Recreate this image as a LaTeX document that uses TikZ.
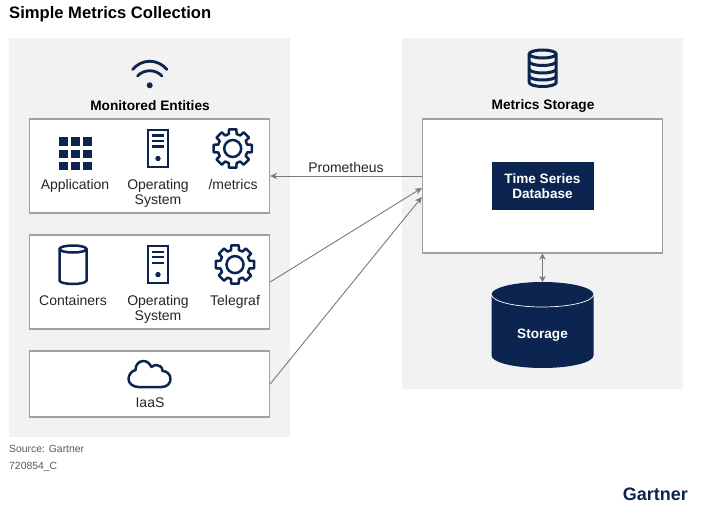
\documentclass[tikz,border=0pt]{standalone}
\usepackage{fontspec}
\setmainfont{Liberation Sans}
\usetikzlibrary{arrows.meta}
\definecolor{navy}{HTML}{0B2550}
\definecolor{panelgray}{HTML}{F2F2F2}
\definecolor{edgegray}{HTML}{9CA1A1}
\definecolor{arrowgray}{HTML}{757A7A}
\newcommand{\sz}[1]{\fontsize{#1}{#1}\selectfont}

\tikzset{
    panel/.style={fill=panelgray,draw=none,minimum width=281pt,inner sep=0pt},
    whitebox/.style={fill=white,draw=edgegray,line width=1.3pt,minimum width=240pt,inner sep=0pt},
    lbl/.style={anchor=north,align=center,text=black!85,font=\sz{14},inner sep=0pt},
    head/.style={text=black,font=\bfseries\sz{13.7},inner sep=0pt},
    navytext/.style={text=white,font=\bfseries\sz{13.6},align=center,inner sep=0pt},
    flow/.style={-{Stealth[length=7pt,width=6.5pt]},draw=arrowgray,line width=.9pt},
    iconline/.style={draw=navy,line width=2.5pt,fill=none},
    gearicon/.pic={
        \draw[iconline,line join=round] (-11:19.5)
            \foreach \a in {0,45,...,315} { -- (\a-11:19.5) -- (\a+11:19.5) -- (\a+15:15) -- (\a+30:15) }
            -- cycle;
        \draw[iconline] (0,0) circle (8.5);
    },
    servericon/.pic={
        \draw[iconline] (-10,-18.5) rectangle (10,18.5);
        \foreach \y in {-13,-7.5,-2}
            \draw[navy,line width=2.2pt] (-6,\y) -- (6,\y);
        \fill[navy] (0,10) circle (2.7);
    },
}

\begin{document}
\begin{tikzpicture}[x=1pt,y=-1pt]

    \useasboundingbox (0,0) rectangle (702,511);

    \node[anchor=west,text=black,font=\bfseries\sz{16.6},inner sep=0pt] (title) at (9,14) {Simple Metrics Collection};

    % the two panels
    \node[panel,minimum height=399pt] (leftpanel) at (149.5,237.5) {};
    \node[panel,minimum height=351pt] (rightpanel) at (542.5,213.5) {};

    \node[head] (monitored) at (150,105.5) {Monitored Entities};
    \node[head] (storagehead) at (543,105.5) {Metrics Storage};

    \node[whitebox,minimum height=94pt] (boxA) at (149.5,166) {};
    \node[whitebox,minimum height=94pt] (boxB) at (149.5,282) {};
    \node[whitebox,minimum height=66pt] (boxC) at (149.5,384) {};
    \node[whitebox,minimum height=134pt] (tsbox) at (542.5,186) {};

    % wifi
    \fill[navy] (149.7,85.3) circle (3);
    \draw[iconline,line width=2.8pt,line cap=round] (132.5,69.5) .. controls (142,58.5) and (157.5,58.5) .. (167,69.5);
    \draw[iconline,line width=2.8pt,line cap=round] (137.5,76) .. controls (144,69) and (155.5,69) .. (162,76);

    % grid
    \foreach \x in {0,12.2,24.4}
        \foreach \y in {0,12.2,24.4}
            \fill[navy] (59+\x,137.3+\y) rectangle +(8.6,8.6);

    \pic at (158,148.5) {servericon};
    \pic at (232.7,148.5) {gearicon};
    \pic at (158,264.6) {servericon};
    \pic at (235,264.6) {gearicon};

    % containers
    \draw[iconline] (59.5,249) -- (59.5,280.5) arc[start angle=180,end angle=0,x radius=13.5,y radius=3.5]
        -- (86.5,249) arc[start angle=0,end angle=-180,x radius=13.5,y radius=3.5]
        arc[start angle=180,end angle=0,x radius=13.5,y radius=3.5];

    % cloud
    \begin{scope}[shift={(149.5,374)}]
        \draw[iconline,line join=round] (-11,13) -- (12,13) .. controls (18,13) and (21,9) .. (21,5)
            .. controls (21,0) and (17,-3) .. (13,-3) .. controls (13,-7) and (10,-9) .. (7,-9)
            .. controls (5,-9) and (3,-8) .. (2,-7) .. controls (0,-11) and (-3,-13) .. (-6,-13)
            .. controls (-11,-13) and (-14,-9) .. (-14,-4) .. controls (-18,-3) and (-21,1) .. (-21,5)
            .. controls (-21,9) and (-17,13) .. (-11,13) -- cycle;
    \end{scope}

    % database icon
    \begin{scope}[shift={(542.7,68)}]
        \draw[iconline,line width=3pt] (-13.5,-14) -- (-13.5,14.5) arc[start angle=180,end angle=0,x radius=13.5,y radius=4]
            -- (13.5,-14) arc[start angle=0,end angle=-180,x radius=13.5,y radius=4]
            arc[start angle=180,end angle=0,x radius=13.5,y radius=4];
        \foreach \y in {-6.5,1,8}
            \draw[iconline,line width=3pt] (-13.5,\y) arc[start angle=180,end angle=0,x radius=13.5,y radius=4];
    \end{scope}

    \node[lbl] (app) at (75,178.8) {Application};
    \node[lbl] (osA) at (158,178.8) {Operating\\[1pt]System};
    \node[lbl] (metrics) at (233,178.8) {/metrics};
    \node[lbl] (containers) at (73,294.8) {Containers};
    \node[lbl] (osB) at (158,294.8) {Operating\\[1pt]System};
    \node[lbl] (telegraf) at (235,294.8) {Telegraf};
    \node[lbl] (iaas) at (150,397.8) {IaaS};

    \node[navytext,fill=navy,minimum width=102pt,minimum height=48pt] (tsdb) at (542.5,186) {Time Series\\[1pt]Database};

    % storage drum
    \fill[navy] (491.5,294.5) arc[start angle=180,end angle=360,x radius=51,y radius=12.5]
        -- (593.5,355.5) arc[start angle=0,end angle=180,x radius=51,y radius=12.5] -- cycle;
    \draw[white,line width=.7pt] (491.5,294.5) arc[start angle=180,end angle=0,x radius=51,y radius=12.5];
    \node[navytext] (storage) at (542.5,335) {Storage};
    \coordinate (storagetop) at (542.5,282);

    % connectors
    \coordinate (promstart) at ([yshift=10pt]tsbox.west);
    \coordinate (inB) at ([yshift=-2pt]tsbox.west);
    \coordinate (inC) at ([yshift=-11pt]tsbox.west);
    \draw[flow] (promstart) -- node[above=3pt,text=black!85,font=\sz{14},inner sep=0pt] (prom) {Prometheus} (promstart -| boxA.east);
    \draw[flow] (boxB.east) -- (inB);
    \draw[flow] (boxC.east) -- (inC);
    \draw[flow,{Stealth[length=6pt,width=6.5pt]}-{Stealth[length=6pt,width=6.5pt]}] (tsbox.south) -- (storagetop);

    \node[anchor=west,text=black!65,font=\sz{10.4},inner sep=0pt] (source) at (9,449) {Source: Gartner};
    \node[anchor=west,text=black!65,font=\sz{10.4},inner sep=0pt] (docid) at (9,467) {720854\_C};
    \node[anchor=east,text=navy,font=\bfseries\sz{18},inner sep=0pt] (logo) at (688,494) {Gartner};

\end{tikzpicture}
\end{document}
